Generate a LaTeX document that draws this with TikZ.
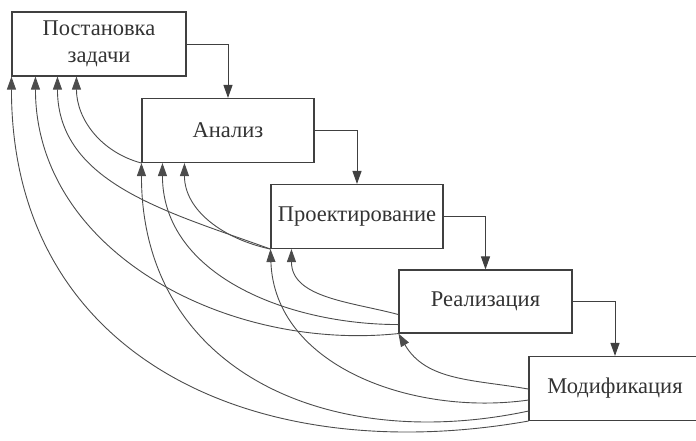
\documentclass[tikz,border=0pt]{standalone}
\usepackage{fontspec}
\setmainfont{Liberation Serif}
\newfontfamily\stagefont{Liberation Serif}
\usetikzlibrary{arrows.meta}
\tikzset{
  stage/.style={draw=black!75, line width=1.1pt, minimum width=172pt, minimum height=64pt,
    inner sep=0pt, align=center, text=black!80, font=\stagefont\fontsize{22.5}{27}\selectfont},
  flow/.style={draw=black!75, line width=1pt, -{Triangle[length=13pt,width=9pt]}},
  back/.style={draw=black!70, line width=0.9pt, -{Triangle[length=13pt,width=9pt]}},
}
\begin{document}
\begin{tikzpicture}[x=1pt,y=-1pt]
    \clip (0,0) rectangle (696,440);
    % stages
    \node[stage, minimum width=174pt] (zad) at (99,44) {Постановка\\задачи};
    \node[stage] (an)  at (228,130.5) {Анализ};
    \node[stage] (pro) at (357,216.5) {Проектирование};
    \node[stage, minimum width=173pt, minimum height=63pt] (rea) at (485.5,301.5) {Реализация};
    \node[stage] (mod) at (615,388.5) {Модификация};

    % forward
    \draw[flow] (zad.east) -| (an.north);
    \draw[flow] (an.east) -| (pro.north);
    \draw[flow] (pro.east) -| (rea.north);
    \draw[flow] (rea.east) -| (mod.north);

    % back to the earlier stages
    \draw[back] (an.south west) to[out=165,in=-90] ([xshift=65pt]zad.south west);
    \draw[back] (pro.south west) to[out=160,in=-90] ([xshift=46pt]zad.south west);
    \draw[back] (pro.south west) to[out=168,in=-90] ([xshift=43pt]an.south west);
    \draw[back] ([yshift=19pt]rea.south west) to[out=165,in=-90] ([xshift=21pt]pro.south west);
    \draw[back] ([yshift=9pt]rea.south west) to[out=180,in=-90] ([xshift=21pt]an.south west);
    \draw[back] (rea.south west) to[out=186,in=-90] ([xshift=24pt]zad.south west);
    \draw[back] ([yshift=32pt]mod.south west) to[out=170,in=-60] (rea.south west);
    \draw[back] ([yshift=21pt]mod.south west) to[out=188,in=-88] (pro.south west);
    \draw[back] ([yshift=10pt]mod.south west) to[out=192,in=-90,looseness=1.15] (an.south west);
    \draw[back] (mod.south west) to[out=190,in=-90,looseness=1.15] (zad.south west);
\end{tikzpicture}
\end{document}
